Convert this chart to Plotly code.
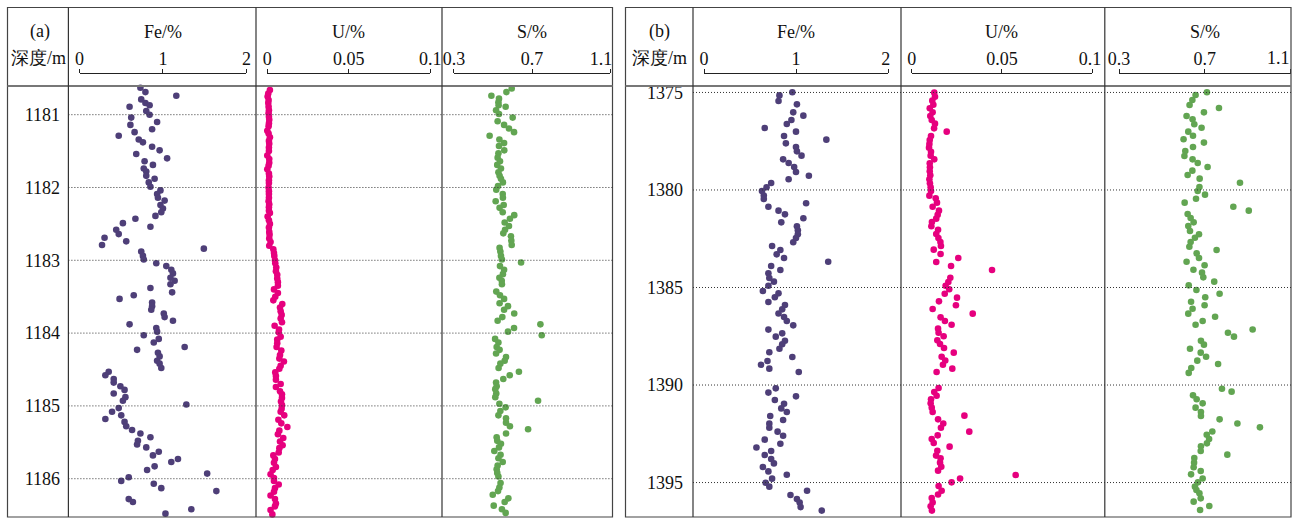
import plotly.graph_objects as go

# ---------------- DATA ----------------
depth_ticks_a = [1181, 1182, 1183, 1184, 1185, 1186]
depth_ticks_b = [1375, 1380, 1385, 1390, 1395]
fe_ticks = [0, 1, 2]
fe_labels = ["0", "1", "2"]
u_ticks = [0, 0.05, 0.1]
u_labels = ["0", "0.05", "0.1"]
s_ticks = [0.3, 0.7, 1.1]
s_labels = ["0.3", "0.7", "1.1"]

depth_a_fe = [1180.63, 1180.69, 1180.74, 1180.79, 1180.84, 1180.87, 1180.89, 1180.95, 1181.00, 1181.04,
              1181.10, 1181.14, 1181.20, 1181.24, 1181.29, 1181.34, 1181.38, 1181.44, 1181.49, 1181.54,
              1181.60, 1181.64, 1181.69, 1181.74, 1181.78, 1181.84, 1181.88, 1181.93, 1181.99, 1182.04,
              1182.09, 1182.14, 1182.18, 1182.24, 1182.29, 1182.34, 1182.39, 1182.43, 1182.49, 1182.54,
              1182.58, 1182.64, 1182.69, 1182.74, 1182.79, 1182.84, 1182.88, 1182.94, 1182.99, 1183.04,
              1183.08, 1183.13, 1183.18, 1183.24, 1183.28, 1183.33, 1183.38, 1183.44, 1183.48, 1183.53,
              1183.58, 1183.63, 1183.68, 1183.73, 1183.78, 1183.83, 1183.88, 1183.93, 1183.98, 1184.03,
              1184.08, 1184.13, 1184.19, 1184.23, 1184.27, 1184.32, 1184.38, 1184.42, 1184.48, 1184.53,
              1184.58, 1184.63, 1184.68, 1184.73, 1184.78, 1184.83, 1184.88, 1184.93, 1184.98, 1185.03,
              1185.08, 1185.13, 1185.18, 1185.22, 1185.28, 1185.33, 1185.38, 1185.43, 1185.48, 1185.53,
              1185.57, 1185.63, 1185.68, 1185.73, 1185.77, 1185.83, 1185.88, 1185.93, 1185.98, 1186.03,
              1186.07, 1186.13, 1186.17, 1186.28, 1186.32, 1186.42, 1186.48]
fe_a = [0.73, 0.79, 1.16, 0.74, 0.79, 0.84, 0.60, 0.80, 0.84, 0.62,
        0.93, 0.61, 0.87, 0.66, 0.47, 0.71, 0.76, 0.87, 0.96, 0.68,
        1.05, 0.78, 0.88, 0.77, 0.80, 0.80, 0.90, 0.83, 0.85, 0.97,
        0.93, 0.94, 1.02, 0.97, 1.00, 0.98, 0.91, 0.67, 0.52, 0.85,
        0.44, 0.47, 0.30, 0.56, 0.27, 1.49, 0.74, 0.76, 0.77, 0.92,
        1.04, 1.10, 1.12, 1.09, 1.14, 1.09, 0.85, 1.11, 0.65, 0.48,
        0.87, 0.87, 0.86, 1.01, 1.02, 1.12, 0.60, 0.92, 0.93, 0.77,
        0.95, 0.89, 1.26, 0.69, 0.94, 0.96, 0.93, 0.96, 0.98, 0.35,
        0.31, 0.41, 0.41, 0.49, 0.54, 0.41, 0.55, 0.52, 1.28, 0.47,
        0.39, 0.50, 0.31, 0.54, 0.56, 0.63, 0.73, 0.85, 0.70, 0.69,
        0.80, 0.95, 0.88, 1.18, 1.10, 0.90, 0.81, 1.53, 0.59, 0.50,
        0.89, 0.98, 1.64, 0.59, 0.64, 1.34, 1.03]

depth_a_u = [1180.66, 1180.71, 1180.75, 1180.80, 1180.84, 1180.89, 1180.94, 1180.98, 1181.03, 1181.07,
             1181.12, 1181.16, 1181.22, 1181.26, 1181.31, 1181.36, 1181.40, 1181.45, 1181.50, 1181.56,
             1181.61, 1181.66, 1181.70, 1181.75, 1181.81, 1181.85, 1181.90, 1181.94, 1182.00, 1182.05,
             1182.09, 1182.14, 1182.19, 1182.23, 1182.27, 1182.32, 1182.35, 1182.40, 1182.45, 1182.50,
             1182.55, 1182.61, 1182.65, 1182.70, 1182.75, 1182.80, 1182.85, 1182.90, 1182.94, 1183.00,
             1183.04, 1183.10, 1183.15, 1183.20, 1183.25, 1183.30, 1183.35, 1183.40, 1183.45, 1183.50,
             1183.55, 1183.60, 1183.65, 1183.70, 1183.75, 1183.80, 1183.85, 1183.90, 1183.95, 1183.99,
             1184.05, 1184.09, 1184.14, 1184.19, 1184.24, 1184.30, 1184.35, 1184.39, 1184.45, 1184.49,
             1184.54, 1184.59, 1184.64, 1184.70, 1184.74, 1184.80, 1184.84, 1184.89, 1184.94, 1184.99,
             1185.04, 1185.08, 1185.13, 1185.19, 1185.24, 1185.29, 1185.34, 1185.39, 1185.44, 1185.49,
             1185.54, 1185.58, 1185.64, 1185.68, 1185.73, 1185.78, 1185.84, 1185.88, 1185.94, 1185.99,
             1186.03, 1186.08, 1186.13, 1186.18, 1186.23, 1186.28, 1186.34, 1186.38, 1186.43, 1186.49]
u_a = [0.0016, 0.0006, 0.0002, 0.0008, 0.0006, 0.0008, 0.0010, 0.0008, 0.0010, 0.0012,
       0.0010, 0.0008, 0.0000, 0.0008, 0.0016, 0.0010, 0.0012, 0.0010, 0.0010, 0.0000,
       0.0012, 0.0012, 0.0008, 0.0000, 0.0010, 0.0012, 0.0010, 0.0010, 0.0008, 0.0010,
       0.0010, 0.0010, 0.0008, 0.0012, 0.0010, 0.0010, 0.0016, 0.0002, 0.0010, 0.0016,
       0.0010, 0.0012, 0.0014, 0.0012, 0.0020, 0.0012, 0.0037, 0.0041, 0.0043, 0.0047,
       0.0049, 0.0055, 0.0053, 0.0061, 0.0061, 0.0065, 0.0065, 0.0041, 0.0065, 0.0049,
       0.0037, 0.0092, 0.0078, 0.0082, 0.0088, 0.0082, 0.0090, 0.0045, 0.0072, 0.0070,
       0.0082, 0.0061, 0.0061, 0.0057, 0.0086, 0.0078, 0.0074, 0.0102, 0.0082, 0.0074,
       0.0049, 0.0053, 0.0053, 0.0082, 0.0053, 0.0078, 0.0090, 0.0090, 0.0084, 0.0090,
       0.0088, 0.0082, 0.0104, 0.0068, 0.0086, 0.0123, 0.0074, 0.0065, 0.0098, 0.0078,
       0.0094, 0.0074, 0.0070, 0.0037, 0.0047, 0.0041, 0.0053, 0.0033, 0.0020, 0.0041,
       0.0041, 0.0070, 0.0047, 0.0041, 0.0020, 0.0047, 0.0053, 0.0047, 0.0020, 0.0031]

depth_a_s = [1180.64, 1180.69, 1180.74, 1180.78, 1180.83, 1180.87, 1180.89, 1180.94, 1180.99, 1181.04,
             1181.09, 1181.14, 1181.19, 1181.24, 1181.29, 1181.34, 1181.39, 1181.43, 1181.49, 1181.53,
             1181.59, 1181.64, 1181.69, 1181.74, 1181.79, 1181.84, 1181.88, 1181.93, 1181.98, 1182.03,
             1182.09, 1182.14, 1182.19, 1182.24, 1182.28, 1182.34, 1182.38, 1182.43, 1182.48, 1182.53,
             1182.58, 1182.63, 1182.67, 1182.73, 1182.79, 1182.83, 1182.88, 1182.94, 1182.99, 1183.03,
             1183.08, 1183.13, 1183.19, 1183.24, 1183.28, 1183.33, 1183.43, 1183.48, 1183.53, 1183.59,
             1183.63, 1183.68, 1183.73, 1183.78, 1183.83, 1183.88, 1183.93, 1183.98, 1184.03, 1184.08,
             1184.13, 1184.19, 1184.23, 1184.28, 1184.33, 1184.38, 1184.42, 1184.48, 1184.53, 1184.58,
             1184.63, 1184.68, 1184.73, 1184.77, 1184.83, 1184.88, 1184.93, 1184.97, 1185.02, 1185.07,
             1185.13, 1185.17, 1185.23, 1185.28, 1185.32, 1185.38, 1185.43, 1185.48, 1185.52, 1185.57,
             1185.62, 1185.67, 1185.72, 1185.77, 1185.82, 1185.87, 1185.92, 1185.97, 1186.06, 1186.12,
             1186.17, 1186.22, 1186.27, 1186.32, 1186.37, 1186.42, 1186.47]
s_a = [0.596, 0.569, 0.492, 0.531, 0.528, 0.529, 0.565, 0.516, 0.531, 0.601,
       0.524, 0.557, 0.582, 0.608, 0.483, 0.533, 0.557, 0.531, 0.558, 0.528,
       0.524, 0.536, 0.522, 0.541, 0.528, 0.534, 0.541, 0.551, 0.526, 0.517,
       0.550, 0.551, 0.514, 0.555, 0.534, 0.550, 0.609, 0.587, 0.560, 0.582,
       0.562, 0.553, 0.592, 0.594, 0.596, 0.534, 0.538, 0.541, 0.546, 0.644,
       0.536, 0.557, 0.551, 0.533, 0.545, 0.546, 0.517, 0.536, 0.557, 0.534,
       0.577, 0.557, 0.609, 0.548, 0.524, 0.743, 0.608, 0.577, 0.750, 0.511,
       0.528, 0.519, 0.534, 0.516, 0.567, 0.560, 0.538, 0.529, 0.633, 0.586,
       0.553, 0.516, 0.519, 0.512, 0.517, 0.512, 0.731, 0.533, 0.565, 0.538,
       0.528, 0.567, 0.567, 0.587, 0.680, 0.567, 0.519, 0.522, 0.541, 0.531,
       0.507, 0.539, 0.528, 0.550, 0.524, 0.519, 0.522, 0.528, 0.539, 0.533,
       0.526, 0.499, 0.579, 0.560, 0.504, 0.546, 0.565]

depth_b_fe = [1374.99, 1375.15, 1375.44, 1375.61, 1376.02, 1376.19, 1376.41, 1376.62, 1376.82, 1377.01,
              1377.23, 1377.42, 1377.61, 1377.80, 1378.02, 1378.24, 1378.43, 1378.62, 1378.82, 1379.08,
              1379.27, 1379.45, 1379.64, 1379.86, 1380.05, 1380.28, 1380.46, 1380.68, 1380.86, 1381.06,
              1381.25, 1381.45, 1381.66, 1381.86, 1382.07, 1382.27, 1382.46, 1382.68, 1382.87, 1383.08,
              1383.30, 1383.49, 1383.68, 1383.90, 1384.10, 1384.27, 1384.51, 1384.70, 1384.91, 1385.18,
              1385.30, 1385.50, 1385.74, 1385.90, 1386.12, 1386.33, 1386.51, 1386.72, 1386.94, 1387.16,
              1387.35, 1387.52, 1387.73, 1387.91, 1388.14, 1388.32, 1388.56, 1388.77, 1388.96, 1389.16,
              1389.33, 1390.17, 1390.39, 1390.58, 1390.77, 1390.96, 1391.20, 1391.38, 1391.59, 1391.79,
              1391.98, 1392.19, 1392.39, 1392.60, 1392.80, 1393.01, 1393.20, 1393.38, 1393.59, 1393.79,
              1394.02, 1394.20, 1394.43, 1394.60, 1394.80, 1395.01, 1395.21, 1395.42, 1395.64, 1395.85,
              1396.02, 1396.26, 1396.44]
fe_b = [0.96, 0.82, 0.81, 1.01, 0.97, 1.08, 0.95, 0.90, 0.66, 1.00,
        0.87, 1.33, 0.89, 1.00, 1.01, 1.06, 0.86, 0.92, 0.98, 1.00,
        1.14, 0.92, 0.73, 0.68, 0.63, 0.65, 0.65, 1.11, 0.70, 0.81,
        0.88, 1.08, 0.84, 1.01, 1.02, 1.02, 1.00, 0.97, 0.74, 0.83,
        0.79, 0.87, 1.35, 0.73, 0.83, 0.70, 0.71, 0.76, 0.70, 0.64,
        0.81, 0.77, 0.70, 0.88, 0.85, 0.81, 0.87, 0.90, 0.97, 0.70,
        0.85, 0.78, 0.88, 0.85, 0.82, 0.71, 0.96, 0.69, 0.62, 0.71,
        1.03, 0.78, 0.70, 1.00, 0.77, 0.87, 0.84, 0.90, 0.72, 0.86,
        0.71, 0.71, 0.80, 0.86, 0.66, 0.83, 0.57, 0.73, 0.66, 0.73,
        0.76, 0.64, 0.70, 0.90, 0.74, 0.67, 0.71, 1.12, 0.94, 1.01,
        1.04, 1.05, 1.28]

depth_b_u = [1375.01, 1375.22, 1375.42, 1375.63, 1375.81, 1376.02, 1376.21, 1376.41, 1376.60, 1376.84,
             1377.01, 1377.23, 1377.44, 1377.64, 1377.83, 1378.04, 1378.24, 1378.43, 1378.63, 1378.84,
             1379.04, 1379.25, 1379.45, 1379.66, 1379.86, 1380.05, 1380.29, 1380.43, 1380.65, 1380.86,
             1381.06, 1381.27, 1381.47, 1381.64, 1381.86, 1382.04, 1382.26, 1382.46, 1382.67, 1382.87,
             1383.06, 1383.28, 1383.49, 1383.69, 1383.90, 1384.10, 1384.50, 1384.72, 1384.91, 1385.09,
             1385.32, 1385.52, 1385.71, 1385.91, 1386.10, 1386.34, 1386.53, 1386.72, 1386.91, 1387.11,
             1387.32, 1387.50, 1387.71, 1387.90, 1388.10, 1388.34, 1388.55, 1388.74, 1388.96, 1389.16,
             1389.33, 1390.15, 1390.36, 1390.55, 1390.73, 1390.94, 1391.16, 1391.38, 1391.57, 1391.76,
             1391.97, 1392.19, 1392.39, 1392.58, 1392.77, 1392.97, 1393.16, 1393.37, 1393.62, 1393.76,
             1393.98, 1394.19, 1394.39, 1394.61, 1394.79, 1394.99, 1395.18, 1395.42, 1395.61, 1395.79,
             1396.02, 1396.22, 1396.44]
u_b = [0.0125, 0.0129, 0.0114, 0.0120, 0.0100, 0.0116, 0.0103, 0.0111, 0.0129, 0.0124,
       0.0194, 0.0107, 0.0100, 0.0098, 0.0096, 0.0107, 0.0105, 0.0125, 0.0100, 0.0101,
       0.0100, 0.0103, 0.0098, 0.0101, 0.0105, 0.0107, 0.0098, 0.0133, 0.0140, 0.0116,
       0.0151, 0.0144, 0.0136, 0.0112, 0.0109, 0.0146, 0.0136, 0.0148, 0.0159, 0.0162,
       0.0122, 0.0160, 0.0258, 0.0136, 0.0218, 0.0445, 0.0214, 0.0203, 0.0188, 0.0208,
       0.0183, 0.0251, 0.0151, 0.0245, 0.0116, 0.0338, 0.0160, 0.0184, 0.0221, 0.0146,
       0.0149, 0.0177, 0.0142, 0.0157, 0.0179, 0.0233, 0.0166, 0.0186, 0.0173, 0.0225,
       0.0138, 0.0149, 0.0125, 0.0138, 0.0107, 0.0105, 0.0111, 0.0116, 0.0292, 0.0146,
       0.0175, 0.0162, 0.0319, 0.0144, 0.0111, 0.0122, 0.0210, 0.0142, 0.0135, 0.0160,
       0.0157, 0.0164, 0.0146, 0.0576, 0.0268, 0.0221, 0.0149, 0.0166, 0.0146, 0.0111,
       0.0116, 0.0105, 0.0112]

depth_b_s = [1374.99, 1375.13, 1375.39, 1375.64, 1375.80, 1376.02, 1376.21, 1376.38, 1376.63, 1376.81,
             1377.01, 1377.22, 1377.40, 1377.57, 1377.80, 1378.00, 1378.26, 1378.43, 1378.62, 1378.82,
             1379.01, 1379.23, 1379.42, 1379.63, 1379.85, 1380.05, 1380.24, 1380.45, 1380.65, 1380.86,
             1381.06, 1381.23, 1381.44, 1381.66, 1381.85, 1382.10, 1382.27, 1382.45, 1382.67, 1382.91,
             1383.08, 1383.25, 1383.49, 1383.68, 1383.86, 1384.09, 1384.24, 1384.48, 1384.70, 1384.89,
             1385.13, 1385.32, 1385.50, 1385.73, 1385.91, 1386.09, 1386.34, 1386.50, 1386.72, 1386.91,
             1387.15, 1387.32, 1387.52, 1387.73, 1387.93, 1388.14, 1388.34, 1388.55, 1388.75, 1388.92,
             1389.13, 1389.38, 1390.19, 1390.34, 1390.53, 1390.73, 1390.94, 1391.16, 1391.38, 1391.59,
             1391.76, 1391.97, 1392.17, 1392.38, 1392.55, 1392.77, 1392.99, 1393.14, 1393.38, 1393.57,
             1393.74, 1393.98, 1394.22, 1394.41, 1394.58, 1394.79, 1394.99, 1395.21, 1395.38, 1395.55,
             1395.81, 1395.98, 1396.20, 1396.41]
s_b = [0.710, 0.657, 0.642, 0.629, 0.766, 0.696, 0.615, 0.643, 0.651, 0.685,
       0.623, 0.645, 0.601, 0.696, 0.645, 0.609, 0.605, 0.643, 0.667, 0.713,
       0.642, 0.620, 0.676, 0.864, 0.675, 0.667, 0.701, 0.659, 0.606, 0.833,
       0.905, 0.620, 0.634, 0.648, 0.623, 0.631, 0.673, 0.654, 0.634, 0.628,
       0.755, 0.662, 0.673, 0.615, 0.699, 0.647, 0.687, 0.693, 0.744, 0.625,
       0.661, 0.769, 0.702, 0.636, 0.699, 0.643, 0.623, 0.748, 0.690, 0.657,
       0.923, 0.808, 0.836, 0.682, 0.696, 0.631, 0.681, 0.706, 0.665, 0.762,
       0.637, 0.625, 0.780, 0.825, 0.645, 0.662, 0.690, 0.657, 0.682, 0.682,
       0.769, 0.852, 0.957, 0.735, 0.709, 0.720, 0.710, 0.682, 0.681, 0.805,
       0.651, 0.650, 0.648, 0.681, 0.636, 0.690, 0.668, 0.654, 0.661, 0.675,
       0.681, 0.648, 0.721, 0.678]

# ---------------- STYLE / LAYOUT ----------------
W, H = 1297, 518
SERIF = "Liberation Serif"
C_FE, C_U, C_S = "#4e3f78", "#e6007e", "#62a552"
FS = 18
NB = "\u00a0"


def px(x):
    return x / W


def py(y):
    return 1 - y / H


BRACKET_Y = 73.0
HEADER_LINE = 86.0
TICKLABEL_Y = 58.0
TOP, BOTTOM = 7.5, 517.0
Y_DOMAIN = [py(BOTTOM), py(HEADER_LINE)]

fig = go.Figure()

tracks = [
    (fe_a, depth_a_fe, "x", "y", C_FE),
    (u_a, depth_a_u, "x2", "y", C_U),
    (s_a, depth_a_s, "x3", "y", C_S),
    (fe_b, depth_b_fe, "x4", "y2", C_FE),
    (u_b, depth_b_u, "x5", "y2", C_U),
    (s_b, depth_b_s, "x6", "y2", C_S),
]
for vals, dep, xa, ya, col in tracks:
    fig.add_trace(go.Scatter(x=vals, y=dep, mode="markers", xaxis=xa, yaxis=ya,
                             marker=dict(size=6.6, color=col, line=dict(width=0)),
                             cliponaxis=False, showlegend=False, hoverinfo="skip"))


def pad_last(labels, right_pad):
    # pads the last label with non-breaking spaces so it sits inside the box
    out = list(labels)
    out[-1] = out[-1] + NB * right_pad
    return out


def drop_last(labels):
    out = list(labels)
    out[-1] = ""
    return out


def xax(x0, x1, rng, tv, tt):
    return dict(domain=[px(x0), px(x1)], range=rng, anchor="free", position=py(BRACKET_Y),
                side="top", showline=True, linecolor="#222", linewidth=1,
                ticks="outside", ticklen=4, tickwidth=1, tickcolor="#222",
                tickvals=tv, ticktext=tt, tickfont=dict(family=SERIF, size=FS, color="#111"),
                ticklabelstandoff=-3, ticklabeloverflow="allow",
                showgrid=False, zeroline=False, fixedrange=True, automargin=False)


def yax(pos, rng, tv):
    return dict(domain=Y_DOMAIN, range=rng, anchor="free", position=px(pos), side="left",
                showline=False, ticks="", tickvals=tv,
                tickfont=dict(family=SERIF, size=FS, color="#111"),
                showgrid=False, zeroline=False, fixedrange=True, automargin=False)


fig.update_layout(
    width=W, height=H, autosize=False,
    margin=dict(l=0, r=0, t=0, b=0, pad=0, autoexpand=False),
    showlegend=False,
    paper_bgcolor="white", plot_bgcolor="rgba(0,0,0,0)",
    xaxis=xax(79.5, 246.4, [0, 2], fe_ticks, fe_labels),
    xaxis2=xax(267.3, 430.2, [0, 0.1], u_ticks, u_labels),
    xaxis3=xax(453.9, 610.1, [0.3, 1.1], s_ticks, pad_last(s_labels, 4)),
    xaxis4=xax(704.0, 888.0, [0, 2], fe_ticks, pad_last(fe_labels, 1)),
    xaxis5=xax(911.7, 1092.2, [0, 0.1], u_ticks, pad_last(u_labels, 1)),
    xaxis6=xax(1119.0, 1290.6, [0.3, 1.1], s_ticks, drop_last(s_labels)),
    yaxis=yax(60.0, [1186.526, 1180.606], depth_ticks_a),
    yaxis2=yax(683.0, [1396.767, 1374.669], depth_ticks_b),
)

shapes = []
panels = [
    (7.5, 612.5, [68.4, 256.0, 442.0], depth_ticks_a, "y"),
    (625.5, 1291.0, [693.0, 901.0, 1104.8], depth_ticks_b, "y2"),
]
for left, right, seps, gticks, yref in panels:
    shapes.append(dict(type="rect", xref="paper", yref="paper", x0=px(left), x1=px(right),
                       y0=py(BOTTOM), y1=py(TOP), line=dict(color="#444", width=1.2)))
    shapes.append(dict(type="line", xref="paper", yref="paper", x0=px(left), x1=px(right),
                       y0=py(HEADER_LINE), y1=py(HEADER_LINE), line=dict(color="#777", width=2)))
    for s in seps:
        shapes.append(dict(type="line", xref="paper", yref="paper", x0=px(s), x1=px(s),
                           y0=py(BOTTOM), y1=py(TOP), line=dict(color="#333", width=1.2)))
    for d in gticks:
        shapes.append(dict(type="line", xref="paper", yref=yref, x0=px(seps[0]), x1=px(right),
                           y0=d, y1=d, line=dict(color="#333", width=1, dash="1px,2px")))
fig.update_layout(shapes=shapes)

ann = []


def text(x, y, t, xref="paper", xanchor="center", xshift=0):
    ann.append(dict(x=x, y=y, xref=xref, yref="paper", text=t, showarrow=False,
                    xanchor=xanchor, yanchor="middle", xshift=xshift,
                    font=dict(family=SERIF, size=FS, color="#111")))


TITLE_Y = py(32)
text(px(40), TITLE_Y, "(a)")
text(px(38), py(58), "深度/m")
text(1, TITLE_Y, "Fe/%", "x")
text(0.05, TITLE_Y, "U/%", "x2")
text(0.7, TITLE_Y, "S/%", "x3")
text(px(660), TITLE_Y, "(b)")
text(px(660), py(58), "深度/m")
text(1, TITLE_Y, "Fe/%", "x4")
text(0.05, TITLE_Y, "U/%", "x5")
text(0.7, TITLE_Y, "S/%", "x6")
# last tick label of the right-most axis, kept inside the frame
text(s_ticks[-1], py(TICKLABEL_Y), s_labels[-1], "x6", xanchor="right", xshift=1)
fig.update_layout(annotations=ann)

fig.write_html("out.html", config={"displayModeBar": False},
               post_script="document.body.style.margin='0';document.body.style.overflow='hidden';")
